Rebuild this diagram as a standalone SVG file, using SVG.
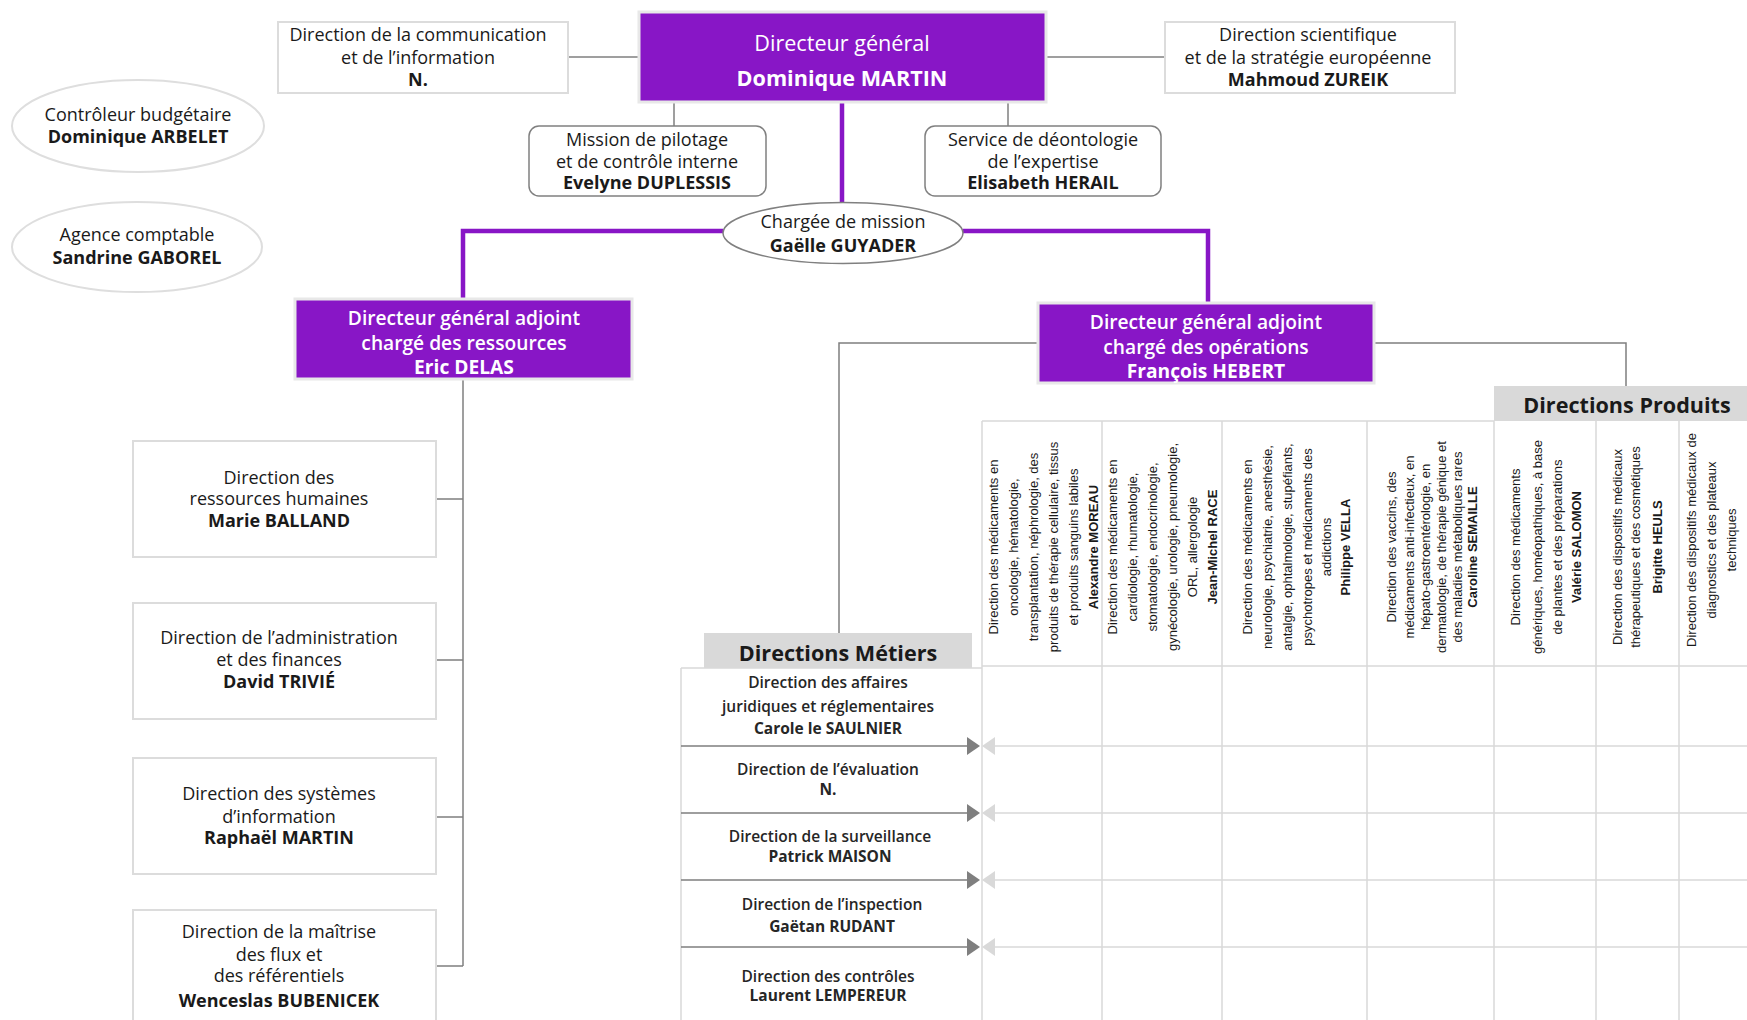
<svg xmlns="http://www.w3.org/2000/svg" width="1747" height="1020" viewBox="0 0 1747 1020">
<style>
.t{font-family:"Open Sans","Liberation Sans",sans-serif;text-anchor:middle;fill:#1a1a1a}
.s18{font-size:18px}
.s21{font-size:21.6px}
.s19{font-size:19.2px}
.m{font-size:15.5px;font-weight:600;fill:#262626}
.w{fill:#ffffff}
.b{font-weight:700}
.sb{font-weight:600}
.v{font-family:"Liberation Sans",Arial,sans-serif;font-size:13px;text-anchor:middle;fill:#1a1a1a}
.purple{fill:#8816c6;stroke:#e8e8e8;stroke-width:3}
.box{fill:#ffffff;stroke:#dcdcdc;stroke-width:2}
.rbox{fill:#ffffff;stroke:#808080;stroke-width:1.5}
.oval{fill:#ffffff;stroke:#dedede;stroke-width:2}
.hdr{fill:#d9d9d9}
.grid{fill:none;stroke:#d9d9d9;stroke-width:1.5}
.con{fill:none;stroke:#7f7f7f;stroke-width:1.5}
.pcon{fill:none;stroke:#8816c6;stroke-width:4.5}
</style>

<g id="connectors">
  <path class="pcon" d="M842 102 V203"/>
  <path class="pcon" d="M723 231 H463 V299"/>
  <path class="pcon" d="M963 231 H1208 V303"/>
  <path class="con" d="M568 57 H639"/>
  <path class="con" d="M1046 57 H1165"/>
  <path class="con" d="M674 102 V126"/>
  <path class="con" d="M1008 102 V126"/>
  <path class="con" d="M1038 343 H839 V633"/>
  <path class="con" d="M1374 343 H1626 V386"/>
  <path class="con" d="M463 379 V966"/>
  <path class="con" d="M436 499 H463 M436 660 H463 M436 817 H463 M436 966 H463"/>
</g>

<g id="grid">
  <path class="grid" d="M982 421 H1494 M982 666 H1747"/>
  <path class="grid" d="M982 421 V1020 M1102 421 V1020 M1222 421 V1020 M1367 421 V1020 M1494 421 V1020 M1596 421 V1020 M1679 421 V1020"/>
  <path class="grid" d="M681 668 V1020 M681 668 H982"/>
  <path class="grid" d="M995 746 H1747 M995 813 H1747 M995 880 H1747 M995 947 H1747"/>
  <g fill="#d9d9d9">
    <polygon points="995,737 982,746 995,755"/>
    <polygon points="995,804 982,813 995,822"/>
    <polygon points="995,871 982,880 995,889"/>
    <polygon points="995,938 982,947 995,956"/>
  </g>
  <path class="con" d="M681 746 H968 M681 813 H968 M681 880 H968 M681 947 H968"/>
  <g fill="#7f7f7f">
    <polygon points="967,737 980,746 967,755"/>
    <polygon points="967,804 980,813 967,822"/>
    <polygon points="967,871 980,880 967,889"/>
    <polygon points="967,938 980,947 967,956"/>
  </g>
</g>

<g id="dg">
  <rect class="purple" x="639" y="12" width="407" height="90"/>
  <text class="t s21 w" x="842" y="50.6">Directeur général</text>
  <text class="t s21 w b" x="842" y="85.6">Dominique MARTIN</text>
</g>

<g id="communication">
  <rect class="box" x="278" y="22" width="290" height="71"/>
  <text class="t s18" x="418" y="41.3">Direction de la communication</text>
  <text class="t s18" x="418" y="64.3">et de l’information</text>
  <text class="t s18 b" x="418" y="86.3">N.</text>
</g>

<g id="scientifique">
  <rect class="box" x="1165" y="22" width="290" height="71"/>
  <text class="t s18" x="1308" y="41.3">Direction scientifique</text>
  <text class="t s18" x="1308" y="64.3">et de la stratégie européenne</text>
  <text class="t s18 b" x="1308" y="86.3">Mahmoud ZUREIK</text>
</g>

<g id="controleur">
  <ellipse class="oval" cx="138" cy="126" rx="126" ry="46"/>
  <text class="t s18" x="138" y="121.3">Contrôleur budgétaire</text>
  <text class="t s18 b" x="138" y="143.3">Dominique ARBELET</text>
</g>

<g id="agence">
  <ellipse class="oval" cx="137" cy="247" rx="125" ry="45"/>
  <text class="t s18" x="137" y="241.3">Agence comptable</text>
  <text class="t s18 b" x="137" y="264.3">Sandrine GABOREL</text>
</g>

<g id="mission">
  <rect class="rbox" x="529" y="126" width="237" height="70" rx="10"/>
  <text class="t s18" x="647" y="146.3">Mission de pilotage</text>
  <text class="t s18" x="647" y="168.3">et de contrôle interne</text>
  <text class="t s18 b" x="647" y="189.3">Evelyne DUPLESSIS</text>
</g>

<g id="deontologie">
  <rect class="rbox" x="925" y="126" width="236" height="70" rx="10"/>
  <text class="t s18" x="1043" y="146.3">Service de déontologie</text>
  <text class="t s18" x="1043" y="168.3">de l’expertise</text>
  <text class="t s18 b" x="1043" y="189.3">Elisabeth HERAIL</text>
</g>

<g id="chargee">
  <ellipse class="rbox" cx="843" cy="233" rx="120" ry="30.5"/>
  <text class="t s18" x="843" y="228.3">Chargée de mission</text>
  <text class="t s18 b" x="843" y="252.3">Gaëlle GUYADER</text>
</g>

<g id="dga-ressources">
  <rect class="purple" x="295" y="299" width="337" height="80"/>
  <text class="t s19 w sb" x="464" y="324.7">Directeur général adjoint</text>
  <text class="t s19 w sb" x="464" y="349.9">chargé des ressources</text>
  <text class="t s19 w b" x="464" y="373.7">Eric DELAS</text>
</g>

<g id="dga-operations">
  <rect class="purple" x="1038" y="303" width="336" height="80"/>
  <text class="t s19 w sb" x="1206" y="328.7">Directeur général adjoint</text>
  <text class="t s19 w sb" x="1206" y="353.7">chargé des opérations</text>
  <text class="t s19 w b" x="1206" y="377.7">François HEBERT</text>
</g>

<g id="drh">
  <rect class="box" x="133" y="441" width="303" height="116"/>
  <text class="t s18" x="279" y="484.3">Direction des</text>
  <text class="t s18" x="279" y="505.3">ressources humaines</text>
  <text class="t s18 b" x="279" y="527.3">Marie BALLAND</text>
</g>

<g id="daf">
  <rect class="box" x="133" y="603" width="303" height="116"/>
  <text class="t s18" x="279" y="644.3">Direction de l’administration</text>
  <text class="t s18" x="279" y="666.3">et des finances</text>
  <text class="t s18 b" x="279" y="688.3">David TRIVIÉ</text>
</g>

<g id="dsi">
  <rect class="box" x="133" y="758" width="303" height="116"/>
  <text class="t s18" x="279" y="800.3">Direction des systèmes</text>
  <text class="t s18" x="279" y="823.3">d’information</text>
  <text class="t s18 b" x="279" y="844.3">Raphaël MARTIN</text>
</g>

<g id="dmfr">
  <rect class="box" x="133" y="910" width="303" height="130"/>
  <text class="t s18" x="279" y="938.3">Direction de la maîtrise</text>
  <text class="t s18" x="279" y="961.3">des flux et</text>
  <text class="t s18" x="279" y="982.3">des référentiels</text>
  <text class="t s18 b" x="279" y="1007.3">Wenceslas BUBENICEK</text>
</g>

<g id="directions-metiers">
  <rect class="hdr" x="704" y="633" width="268" height="35"/>
  <text class="t s21 b" x="838" y="660.6">Directions Métiers</text>
</g>

<g id="daj">
  <text class="t m" x="828" y="688.4">Direction des affaires</text>
  <text class="t m" x="828" y="712.4">juridiques et réglementaires</text>
  <text class="t m b" x="828" y="734.4">Carole le SAULNIER</text>
</g>
<g id="eval">
  <text class="t m" x="828" y="775.4">Direction de l’évaluation</text>
  <text class="t m b" x="828" y="795.4">N.</text>
</g>
<g id="surv">
  <text class="t m" x="830" y="842.4">Direction de la surveillance</text>
  <text class="t m b" x="830" y="862.4">Patrick MAISON</text>
</g>
<g id="insp">
  <text class="t m" x="832" y="910.4">Direction de l’inspection</text>
  <text class="t m b" x="832" y="932.4">Gaëtan RUDANT</text>
</g>
<g id="ctrl">
  <text class="t m" x="828" y="982.4">Direction des contrôles</text>
  <text class="t m b" x="828" y="1001.4">Laurent LEMPEREUR</text>
</g>

<g id="directions-produits">
  <rect class="hdr" x="1494" y="386" width="260" height="35"/>
  <text class="t s21 b" x="1627" y="412.6">Directions Produits</text>
</g>

<g id="prod-1">
  <text class="v" transform="translate(997.5,547) rotate(-90)">Direction des médicaments en</text>
  <text class="v" transform="translate(1017.5,547) rotate(-90)">oncologie, hématologie,</text>
  <text class="v" transform="translate(1037.5,547) rotate(-90)">transplantation, néphrologie, des</text>
  <text class="v" transform="translate(1057.5,547) rotate(-90)">produits de thérapie cellulaire, tissus</text>
  <text class="v" transform="translate(1077.5,547) rotate(-90)">et produits sanguins labiles</text>
  <text class="v b" transform="translate(1097.5,547) rotate(-90)">Alexandre MOREAU</text>
</g>
<g id="prod-2">
  <text class="v" transform="translate(1116.5,547) rotate(-90)">Direction des médicaments en</text>
  <text class="v" transform="translate(1136.5,547) rotate(-90)">cardiologie, rhumatologie,</text>
  <text class="v" transform="translate(1156.5,547) rotate(-90)">stomatologie, endocrinologie,</text>
  <text class="v" transform="translate(1176.5,547) rotate(-90)">gynécologie, urologie, pneumologie,</text>
  <text class="v" transform="translate(1196.5,547) rotate(-90)">ORL, allergologie</text>
  <text class="v b" transform="translate(1216.5,547) rotate(-90)">Jean-Michel RACE</text>
</g>
<g id="prod-3">
  <text class="v" transform="translate(1251.5,547) rotate(-90)">Direction des médicaments en</text>
  <text class="v" transform="translate(1271.5,547) rotate(-90)">neurologie, psychiatrie, anesthésie,</text>
  <text class="v" transform="translate(1291.5,547) rotate(-90)">antalgie, ophtalmologie, stupéfiants,</text>
  <text class="v" transform="translate(1311.5,547) rotate(-90)">psychotropes et médicaments des</text>
  <text class="v" transform="translate(1330.5,547) rotate(-90)">addictions</text>
  <text class="v b" transform="translate(1349.5,547) rotate(-90)">Philippe VELLA</text>
</g>
<g id="prod-4">
  <text class="v" transform="translate(1395.5,547) rotate(-90)">Direction des vaccins, des</text>
  <text class="v" transform="translate(1413.5,547) rotate(-90)">médicaments anti-infectieux, en</text>
  <text class="v" transform="translate(1429.5,547) rotate(-90)">hépato-gastroentérologie, en</text>
  <text class="v" transform="translate(1445.5,547) rotate(-90)">dermatologie, de thérapie génique et</text>
  <text class="v" transform="translate(1461.5,547) rotate(-90)">des maladies métaboliques rares</text>
  <text class="v b" transform="translate(1476.5,547) rotate(-90)">Caroline SEMAILLE</text>
</g>
<g id="prod-5">
  <text class="v" transform="translate(1519.5,547) rotate(-90)">Direction des médicaments</text>
  <text class="v" transform="translate(1541.5,547) rotate(-90)">génériques, homéopathiques, à base</text>
  <text class="v" transform="translate(1561.5,547) rotate(-90)">de plantes et des préparations</text>
  <text class="v b" transform="translate(1580.5,547) rotate(-90)">Valérie SALOMON</text>
</g>
<g id="prod-6">
  <text class="v" transform="translate(1621.5,547) rotate(-90)">Direction des dispositifs médicaux</text>
  <text class="v" transform="translate(1639.5,547) rotate(-90)">thérapeutiques et des cosmétiques</text>
  <text class="v b" transform="translate(1661.5,547) rotate(-90)">Brigitte HEULS</text>
</g>
<g id="prod-7">
  <text class="v" transform="translate(1696,540) rotate(-90)">Direction des dispositifs médicaux de</text>
  <text class="v" transform="translate(1716,540) rotate(-90)">diagnostics et des plateaux</text>
  <text class="v" transform="translate(1736,540) rotate(-90)">techniques</text>
</g>
</svg>
